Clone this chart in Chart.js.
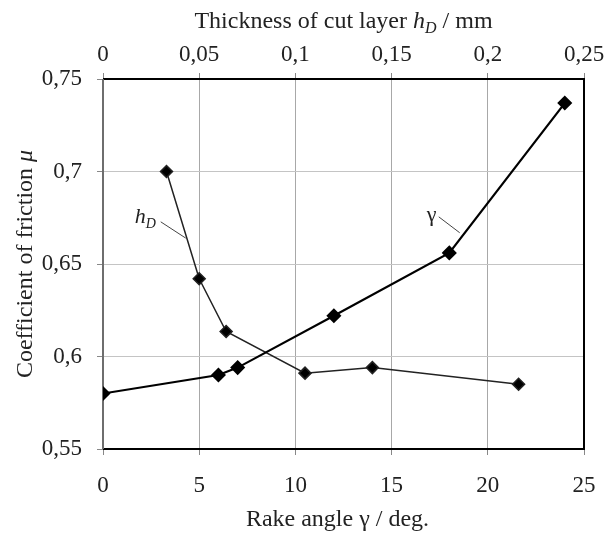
<!DOCTYPE html>
<html>
<head>
<meta charset="utf-8">
<script src="https://cdn.jsdelivr.net/npm/chart.js@4"></script>
<style>
  html, body { margin: 0; padding: 0; background: #fff; }
</style>
</head>
<body>
<canvas id="frictionChart" width="613" height="534"></canvas>
<script>
// rake angle series (bottom axis)
const rakeAngle = [0, 6, 7, 12, 18, 24];
const muRake = [0.58, 0.59, 0.594, 0.622, 0.656, 0.737];

// cut layer thickness series (top axis)
const thickness = [0.033, 0.05, 0.064, 0.105, 0.14, 0.216];
const muThickness = [0.70, 0.642, 0.6135, 0.591, 0.594, 0.585];

const rakeTicks = [0, 5, 10, 15, 20, 25];
const thicknessTicks = [0, 0.05, 0.1, 0.15, 0.2, 0.25];
const muTicks = [0.55, 0.6, 0.65, 0.7, 0.75];

const FONT = "'Liberation Serif', 'Times New Roman', serif";
const TEXT = "#222";

function comma(v) {
  return parseFloat(Number(v).toFixed(3)).toString().replace(".", ",");
}

// draw text made of parts (normal / italic / subscript), centred on x
function drawParts(ctx, parts, x, y, size) {
  const fontOf = (p) => (p.italic ? "italic " : "") + (p.sub ? Math.round(size * 0.65) : size) + "px " + FONT;
  let total = 0;
  parts.forEach((p) => {
    ctx.font = fontOf(p);
    total += ctx.measureText(p.text).width;
  });
  let cx = x - total / 2;
  ctx.textAlign = "left";
  ctx.textBaseline = "alphabetic";
  parts.forEach((p) => {
    ctx.font = fontOf(p);
    ctx.fillText(p.text, cx, p.sub ? y + size * 0.2 : y);
    cx += ctx.measureText(p.text).width;
  });
}

const decorations = {
  id: "decorations",
  beforeDatasetsDraw(chart) {
    const { ctx, chartArea: a } = chart;
    ctx.save();
    ctx.lineWidth = 2;
    ctx.strokeStyle = "#000";
    ctx.beginPath();
    ctx.moveTo(a.left, a.top);
    ctx.lineTo(a.right, a.top);
    ctx.lineTo(a.right, a.bottom);
    ctx.lineTo(a.left, a.bottom);
    ctx.stroke();
    ctx.strokeStyle = "#6e6e6e";
    ctx.beginPath();
    ctx.moveTo(a.left, a.top);
    ctx.lineTo(a.left, a.bottom);
    ctx.stroke();
    ctx.restore();
  },
  afterDraw(chart) {
    const { ctx, chartArea: a, scales } = chart;
    const mid = (a.left + a.right) / 2;
    ctx.save();
    ctx.fillStyle = TEXT;

    // axis titles
    drawParts(ctx, [
      { text: "Thickness of cut layer " },
      { text: "h", italic: true },
      { text: "D", italic: true, sub: true },
      { text: " / mm" },
    ], mid, a.top - 51, 24);
    drawParts(ctx, [{ text: "Rake angle γ / deg." }], mid - 6, a.bottom + 77, 24);

    ctx.save();
    ctx.translate(32, (a.top + a.bottom) / 2);
    ctx.rotate(-Math.PI / 2);
    drawParts(ctx, [{ text: "Coefficient of friction " }, { text: "μ", italic: true }], 0, 0, 24);
    ctx.restore();

    // series labels with leader lines
    const y = scales.y;
    const hx = scales.x2;
    const gx = scales.x;
    ctx.strokeStyle = "#444";
    ctx.lineWidth = 1;
    ctx.beginPath();
    ctx.moveTo(hx.getPixelForValue(0.030), y.getPixelForValue(0.6728));
    ctx.lineTo(hx.getPixelForValue(0.043), y.getPixelForValue(0.664));
    ctx.moveTo(gx.getPixelForValue(17.45), y.getPixelForValue(0.6755));
    ctx.lineTo(gx.getPixelForValue(18.54), y.getPixelForValue(0.6669));
    ctx.stroke();

    drawParts(ctx, [{ text: "h", italic: true }, { text: "D", italic: true, sub: true }],
      hx.getPixelForValue(0.022), y.getPixelForValue(0.672), 22);
    drawParts(ctx, [{ text: "γ" }], gx.getPixelForValue(17.08), y.getPixelForValue(0.673), 22);
    ctx.restore();
  },
};

Chart.defaults.font.family = FONT;
Chart.defaults.color = TEXT;

new Chart(document.getElementById("frictionChart"), {
  type: "line",
  data: {
    datasets: [
      {
        label: "γ",
        data: rakeAngle.map((v, i) => ({ x: v, y: muRake[i] })),
        xAxisID: "x",
        borderColor: "#000",
        backgroundColor: "#000",
        borderWidth: 2.2,
        pointStyle: "rectRot",
        pointRadius: 6,
        tension: 0,
      },
      {
        label: "hD",
        data: thickness.map((v, i) => ({ x: v, y: muThickness[i] })),
        xAxisID: "x2",
        borderColor: "#222",
        backgroundColor: "#000",
        borderWidth: 1.5,
        pointStyle: "rectRot",
        pointRadius: 6,
        tension: 0,
      },
    ],
  },
  options: {
    responsive: false,
    animation: false,
    devicePixelRatio: 1,
    layout: { padding: { left: 0, right: 29, top: 0, bottom: 0 } },
    plugins: { legend: { display: false }, tooltip: { enabled: false } },
    scales: {
      x: {
        type: "linear",
        position: "bottom",
        min: rakeTicks[0],
        max: rakeTicks[rakeTicks.length - 1],
        afterBuildTicks: (s) => { s.ticks = rakeTicks.map((v) => ({ value: v })); },
        afterFit: (s) => { s.height = 85; },
        ticks: { font: { size: 23 }, padding: 17, maxRotation: 0, callback: (v) => comma(v) },
        grid: { color: "#a8a8a8", tickColor: "#888", tickLength: 6, lineWidth: 1 },
        border: { display: false },
      },
      x2: {
        type: "linear",
        position: "top",
        min: thicknessTicks[0],
        max: thicknessTicks[thicknessTicks.length - 1],
        afterBuildTicks: (s) => { s.ticks = thicknessTicks.map((v) => ({ value: v })); },
        afterFit: (s) => { s.height = 79; },
        ticks: { font: { size: 23 }, padding: 4, maxRotation: 0, callback: (v) => comma(v) },
        grid: { drawOnChartArea: false, tickColor: "#888", tickLength: 6 },
        border: { display: false },
      },
      y: {
        type: "linear",
        min: muTicks[0],
        max: muTicks[muTicks.length - 1],
        afterBuildTicks: (s) => { s.ticks = muTicks.map((v) => ({ value: v })); },
        afterFit: (s) => { s.width = 103; },
        ticks: { font: { size: 23 }, padding: 15, callback: (v) => comma(v) },
        grid: { color: "#c4c4c4", tickColor: "#888", tickLength: 6, lineWidth: 1 },
        border: { display: false },
      },
    },
  },
  plugins: [decorations],
});
</script>
</body>
</html>
